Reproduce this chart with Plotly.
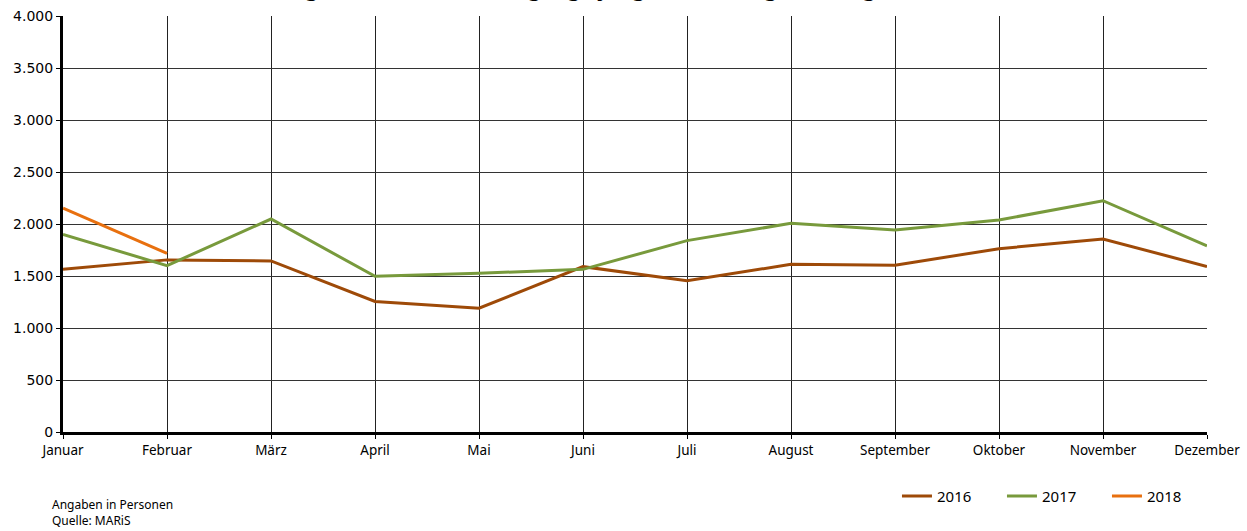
import plotly.graph_objects as go

months = ["Januar", "Februar", "März", "April", "Mai", "Juni", "Juli",
          "August", "September", "Oktober", "November", "Dezember"]
v2016 = [1565, 1655, 1645, 1255, 1190, 1590, 1455, 1612, 1603, 1763, 1856, 1592]
v2017 = [1900, 1600, 2048, 1497, 1526, 1564, 1840, 2007, 1942, 2038, 2224, 1790]
v2018 = [2152, 1718]
y_ticks = [0, 500, 1000, 1500, 2000, 2500, 3000, 3500, 4000]

fig = go.Figure()
fig.add_trace(go.Scatter(x=months, y=v2016, name="2016", mode="lines",
                         line=dict(color="#9E4A08", width=3)))
fig.add_trace(go.Scatter(x=months, y=v2017, name="2017", mode="lines",
                         line=dict(color="#789A3C", width=3)))
fig.add_trace(go.Scatter(x=months[:len(v2018)], y=v2018, name="2018", mode="lines",
                         line=dict(color="#E8700F", width=3)))

font_family = "Noto Sans, Open Sans, DejaVu Sans, sans-serif"

fig.update_layout(
    width=1247, height=531,
    margin=dict(l=63, r=40, t=16, b=99, autoexpand=False),
    paper_bgcolor="white", plot_bgcolor="white",
    separators=",.",
    font=dict(family=font_family, size=12, color="#000"),
    showlegend=True,
    legend=dict(orientation="h", x=0.729, y=-0.115, xanchor="left", yanchor="top",
                entrywidth=60, entrywidthmode="pixels", tracegroupgap=0,
                font=dict(size=15, color="#000"),
                bgcolor="rgba(0,0,0,0)"),
    xaxis=dict(type="category", range=[0, 11], showgrid=True, gridcolor="#222",
               gridwidth=1, showline=True, linecolor="#000", linewidth=3,
               ticks="outside", ticklen=4, tickcolor="#000",
               tickfont=dict(size=13.5), zeroline=False, fixedrange=True),
    yaxis=dict(range=[0, 4000], tickvals=y_ticks, tickformat=",d",
               showgrid=True, gridcolor="#333", gridwidth=1,
               showline=True, linecolor="#000", linewidth=3,
               ticks="outside", ticklen=4, tickcolor="#000",
               tickfont=dict(size=14, family="DejaVu Sans, sans-serif"),
               zeroline=False, fixedrange=True),
    annotations=[
        dict(text="<b>Entwicklung der monatlichen Zugänge junger Flüchtlinge im Vergleich (2016 bis 2018)</b>",
             xref="paper", yref="paper", x=0.5, y=1, xanchor="center", yanchor="bottom",
             yshift=12, showarrow=False, font=dict(size=21, color="#000")),
        dict(text="Angaben in Personen<br>Quelle: MARiS", xref="paper", yref="paper",
             x=-0.0114, y=-0.1947, xanchor="left", yanchor="middle", align="left",
             showarrow=False, font=dict(size=12, color="#000")),
    ],
)

fig.write_html("out.html")
